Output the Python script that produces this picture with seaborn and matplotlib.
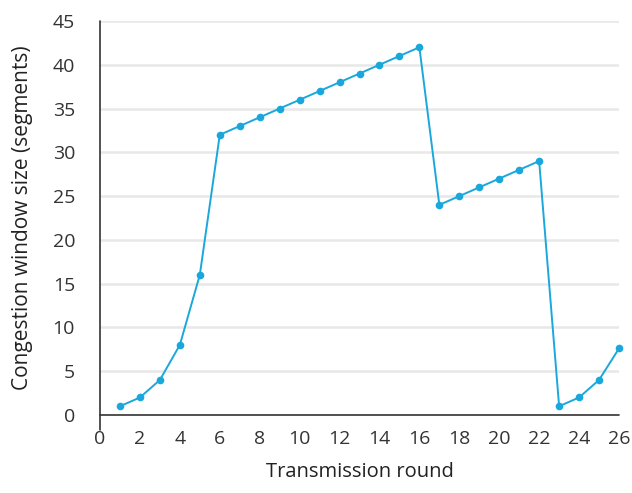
import matplotlib
matplotlib.use("Agg")
import matplotlib.pyplot as plt
import seaborn as sns
import pandas as pd

rounds = list(range(1, 27))
cwnd = [1, 2, 4, 8, 16, 32, 33, 34, 35, 36, 37, 38, 39, 40, 41, 42,
        24, 25, 26, 27, 28, 29, 1, 2, 4, 7.6]
x_ticks = list(range(0, 27, 2))
y_ticks = list(range(0, 46, 5))

df = pd.DataFrame({"round": rounds, "cwnd": cwnd})

sns.set_style("white")
plt.rcParams["font.family"] = ["Open Sans", "DejaVu Sans"]
plt.rcParams["font.size"] = 14

fig = plt.figure(figsize=(6.32, 4.93), dpi=100)
ax = fig.add_axes([100/632, 78/493, 519/632, 394/493])

for y in y_ticks[1:]:
    ax.axhline(y, color="#e8e8e8", lw=1.8, zorder=0)

sns.lineplot(data=df, x="round", y="cwnd", ax=ax, color="#1aa8dc",
             lw=1.4, marker="o", markersize=5.5, markeredgewidth=0,
             clip_on=False, zorder=3)

ax.set_xlim(0, 26)
ax.set_ylim(0, 45)
ax.set_xticks(x_ticks)
ax.set_yticks(y_ticks)
ax.set_xlabel("Transmission round", fontsize=14.5, labelpad=10, color="#222222")
ax.set_ylabel("Congestion window size (segments)", fontsize=15, labelpad=14, color="#222222")

for s in ["top", "right"]:
    ax.spines[s].set_visible(False)
ax.spines["left"].set_position(("outward", 9))
ax.spines["bottom"].set_position(("outward", 3))
ax.spines["left"].set_color("none")
ax.spines["bottom"].set_color("none")

# axis lines
ax.axhline(0, color="#333333", lw=1.2, clip_on=False, zorder=2)
ax.axvline(0, ymin=-15/394, ymax=1, color="#333333", lw=1.2, clip_on=False, zorder=2)

ax.tick_params(axis="x", direction="out", length=8, width=1, color="#999999",
               pad=0, labelsize=14, labelcolor="#333333")
ax.tick_params(axis="y", direction="out", length=5, width=1, color="#999999",
               pad=4, labelsize=14, labelcolor="#333333")

fig.savefig("out.png", dpi=100)
